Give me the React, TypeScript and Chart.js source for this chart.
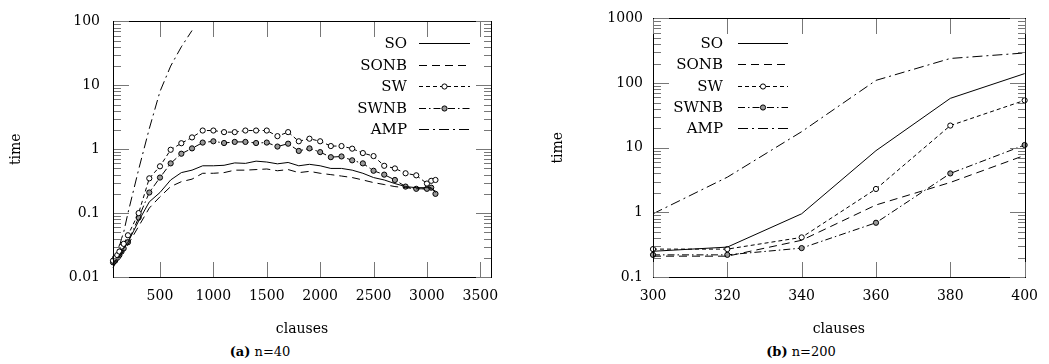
import React, { useEffect, useRef } from 'react';
import { Chart, registerables } from 'chart.js';

Chart.register(...registerables);

const FONT = "'DejaVu Serif', 'Liberation Serif', serif";

// ---------- Panel (a): n=40 ----------
const clausesA = [60, 80, 100, 120, 140, 160, 200, 300, 400, 500, 600, 700, 800, 900, 1000, 1100, 1200, 1300, 1400, 1500, 1600, 1700, 1800, 1900, 2000, 2100, 2200, 2300, 2400, 2500, 2600, 2700, 2800, 2900, 3000, 3040, 3080];
const soA = [0.016, 0.018, 0.02, 0.022, 0.025, 0.028, 0.035, 0.075, 0.15, 0.21, 0.33, 0.43, 0.47, 0.55, 0.55, 0.56, 0.61, 0.6, 0.65, 0.63, 0.59, 0.62, 0.55, 0.58, 0.55, 0.5, 0.5, 0.47, 0.42, 0.36, 0.33, 0.29, 0.26, 0.25, 0.25, 0.25, 0.21];
const sonbA = [0.014, 0.016, 0.018, 0.02, 0.023, 0.026, 0.032, 0.062, 0.12, 0.18, 0.26, 0.31, 0.34, 0.42, 0.42, 0.43, 0.47, 0.47, 0.48, 0.49, 0.46, 0.48, 0.43, 0.45, 0.42, 0.4, 0.38, 0.36, 0.33, 0.3, 0.28, 0.26, 0.25, 0.24, 0.24, 0.24, 0.22];
const swA = [0.018, 0.02, 0.022, 0.025, 0.03, 0.033, 0.045, 0.1, 0.35, 0.54, 0.98, 1.24, 1.53, 1.96, 1.96, 1.85, 1.85, 1.96, 1.96, 1.96, 1.6, 1.85, 1.33, 1.46, 1.33, 1.12, 1.12, 1.02, 0.87, 0.78, 0.55, 0.5, 0.42, 0.39, 0.29, 0.32, 0.33];
const swnbA = [0.017, 0.018, 0.02, 0.022, 0.025, 0.028, 0.035, 0.085, 0.21, 0.36, 0.6, 0.85, 1.03, 1.27, 1.33, 1.25, 1.3, 1.3, 1.25, 1.27, 1.1, 1.22, 0.94, 1.03, 0.9, 0.75, 0.77, 0.67, 0.6, 0.46, 0.4, 0.33, 0.26, 0.24, 0.24, 0.25, 0.2];
const ampA = [0.016, 0.02, 0.025, 0.03, 0.04, 0.05, 0.1, 0.48, 2.1, 8, 20, 40, 72, null, null, null, null, null, null, null, null, null, null, null, null, null, null, null, null, null, null, null, null, null, null, null, null];
const xTicksA = [500, 1000, 1500, 2000, 2500, 3000, 3500];
const yTicksA = [0.01, 0.1, 1, 10, 100];

// ---------- Panel (b): n=200 ----------
const clausesB = [300, 320, 340, 360, 380, 400];
const soB = [0.25, 0.29, 0.95, 9.0, 58, 140];
const sonbB = [0.21, 0.21, 0.37, 1.3, 2.9, 7.6];
const swB = [0.27, 0.27, 0.41, 2.3, 22, 54];
const swnbB = [0.22, 0.22, 0.28, 0.69, 4.0, 11];
const ampB = [0.95, 3.5, 17.7, 110, 240, 292];
const xTicksB = [300, 320, 340, 360, 380, 400];
const yTicksB = [0.1, 1, 10, 100, 1000];

const seriesLabels = ['SO', 'SONB', 'SW', 'SWNB', 'AMP'];

const styles = [
  { dash: [] as number[], marker: false, fill: '#fff' },
  { dash: [8, 5], marker: false, fill: '#fff' },
  { dash: [4, 3], marker: true, fill: '#fff' },
  { dash: [7, 3, 1.5, 3], marker: true, fill: '#999' },
  { dash: [10, 4, 2, 4], marker: false, fill: '#fff' },
];

function makeDatasets(xs: number[], values: (number | null)[][]) {
  return values.map((vals, si) => {
    const pts: { x: number; y: number }[] = [];
    xs.forEach((x, i) => {
      const v = vals[i];
      if (v != null) pts.push({ x, y: v });
    });
    return {
      label: seriesLabels[si],
      data: pts,
      borderColor: '#000',
      borderWidth: 1,
      borderDash: styles[si].dash,
      pointRadius: styles[si].marker ? 2.6 : 0,
      pointBackgroundColor: styles[si].fill,
      pointBorderColor: '#000',
      pointBorderWidth: 1,
      fill: false,
      tension: 0,
      clip: false as any,
    };
  });
}

type LegendPos = { textRight: number; x0: number; x1: number; y0: number; dy: number };

function makeFramePlugin(id: string, xTicks: number[], yTicks: number[], lg: LegendPos) {
  const drawFrame = (chart: any) => {
    const ctx = chart.ctx as CanvasRenderingContext2D;
    const xs = chart.scales.x;
    const ys = chart.scales.y;
    const L = Math.round(xs.left);
    const R = Math.round(xs.right);
    const T = Math.round(ys.top);
    const B = Math.round(ys.bottom);
    ctx.save();
    ctx.fillStyle = '#000';
    ctx.fillRect(L, T, R - L + 1, 1);
    ctx.fillRect(L, B, R - L + 1, 1);
    ctx.fillRect(L, T, 1, B - T + 1);
    ctx.fillRect(R, T, 1, B - T + 1);
    ctx.fillStyle = '#777';
    const major = 15;
    const minor = 7;
    xTicks.forEach((v) => {
      const px = Math.round(xs.getPixelForValue(v));
      ctx.fillRect(px, B - major, 1, major);
      ctx.fillRect(px, T + 1, 1, major);
    });
    yTicks.forEach((v) => {
      const py = Math.round(ys.getPixelForValue(v));
      ctx.fillRect(L + 1, py, major, 1);
      ctx.fillRect(R - major, py, major, 1);
    });
    for (let i = 0; i < yTicks.length - 1; i++) {
      for (let k = 2; k <= 9; k++) {
        const py = Math.round(ys.getPixelForValue(k * yTicks[i]));
        ctx.fillRect(L + 1, py, minor, 1);
        ctx.fillRect(R - minor, py, minor, 1);
      }
    }
    ctx.restore();
  };
  const drawLegend = (chart: any) => {
    const ctx = chart.ctx as CanvasRenderingContext2D;
    ctx.save();
    ctx.font = `15px ${FONT}`;
    ctx.textAlign = 'right';
    ctx.textBaseline = 'middle';
    ctx.lineWidth = 1;
    chart.data.datasets.forEach((ds: any, i: number) => {
      const y = Math.round(lg.y0 + i * lg.dy) + 0.5;
      ctx.fillStyle = '#000';
      ctx.fillText(ds.label, lg.textRight, y + 1);
      ctx.beginPath();
      ctx.setLineDash(ds.borderDash || []);
      ctx.strokeStyle = '#000';
      ctx.moveTo(lg.x0, y);
      ctx.lineTo(lg.x1, y);
      ctx.stroke();
      ctx.setLineDash([]);
      if (ds.pointRadius > 0) {
        ctx.beginPath();
        ctx.arc((lg.x0 + lg.x1) / 2, y, ds.pointRadius, 0, Math.PI * 2);
        ctx.fillStyle = ds.pointBackgroundColor;
        ctx.fill();
        ctx.stroke();
      }
    });
    ctx.restore();
  };
  return {
    id,
    beforeDatasetsDraw(chart: any) {
      drawFrame(chart);
    },
    afterDraw(chart: any) {
      drawFrame(chart);
      drawLegend(chart);
    },
  };
}

function makeConfig(p: {
  id: string;
  xs: number[];
  values: (number | null)[][];
  xMin: number;
  xMax: number;
  yMin: number;
  yMax: number;
  xTicks: number[];
  yTicks: number[];
  padLeft: number;
  padRight: number;
  yWidth: number;
  yPad: number;
  legend: LegendPos;
}): any {
  const tickFont = { family: FONT, size: 14 };
  return {
    type: 'line',
    data: { datasets: makeDatasets(p.xs, p.values) },
    options: {
      responsive: false,
      animation: false,
      events: [],
      layout: { padding: { left: p.padLeft, right: p.padRight, top: 16, bottom: 0 } },
      plugins: {
        legend: { display: false },
        tooltip: { enabled: false },
      },
      scales: {
        x: {
          type: 'linear',
          min: p.xMin,
          max: p.xMax,
          afterBuildTicks: (s: any) => {
            s.ticks = p.xTicks.map((v) => ({ value: v }));
          },
          afterFit: (s: any) => {
            s.height = 65;
          },
          ticks: {
            autoSkip: false,
            maxRotation: 0,
            padding: 11,
            color: '#000',
            font: tickFont,
            callback: (v: any) => String(v),
          },
          grid: { display: false, drawTicks: false },
          border: { display: true, color: '#000', width: 1 },
          title: { display: true, text: 'clauses', color: '#000', font: tickFont, padding: { top: 4, bottom: 4 } },
        },
        y: {
          type: 'logarithmic',
          min: p.yMin,
          max: p.yMax,
          afterBuildTicks: (s: any) => {
            s.ticks = p.yTicks.map((v) => ({ value: v }));
          },
          afterFit: (s: any) => {
            s.width = p.yWidth;
          },
          ticks: {
            autoSkip: false,
            padding: p.yPad,
            color: '#000',
            font: tickFont,
            callback: (v: any) => String(v),
          },
          grid: { display: false, drawTicks: false },
          border: { display: true, color: '#000', width: 1 },
          title: { display: true, text: 'time', color: '#000', font: tickFont, padding: { top: 4, bottom: 4 } },
        },
      },
    },
    plugins: [makeFramePlugin(p.id, p.xTicks, p.yTicks, p.legend)],
  };
}

export default function App() {
  const refA = useRef<HTMLCanvasElement | null>(null);
  const refB = useRef<HTMLCanvasElement | null>(null);

  useEffect(() => {
    const chartA = new Chart(
      refA.current as HTMLCanvasElement,
      makeConfig({
        id: 'frameA',
        xs: clausesA,
        values: [soA, sonbA, swA, swnbA, ampA],
        xMin: 60,
        xMax: 3600,
        yMin: 0.01,
        yMax: 100,
        xTicks: xTicksA,
        yTicks: yTicksA,
        padLeft: 4,
        padRight: 29,
        yWidth: 109,
        yPad: 13,
        legend: { textRight: 407, x0: 419, x1: 470, y0: 43, dy: 21.5 },
      })
    );
    const chartB = new Chart(
      refB.current as HTMLCanvasElement,
      makeConfig({
        id: 'frameB',
        xs: clausesB,
        values: [soB, sonbB, swB, swnbB, ampB],
        xMin: 300,
        xMax: 400,
        yMin: 0.1,
        yMax: 1000,
        xTicks: xTicksB,
        yTicks: yTicksB,
        padLeft: 26,
        padRight: 21,
        yWidth: 107,
        yPad: 10,
        legend: { textRight: 203, x0: 218, x1: 268, y0: 43, dy: 21.3 },
      })
    );
    return () => {
      chartA.destroy();
      chartB.destroy();
    };
  }, []);

  const capStyle: React.CSSProperties = {
    position: 'absolute',
    top: 343,
    fontFamily: FONT,
    fontSize: 13,
    lineHeight: '18px',
    color: '#000',
    whiteSpace: 'nowrap',
    transform: 'translateX(-50%)',
  };

  return (
    <div style={{ position: 'absolute', left: 0, top: 0, width: 1049, height: 364, background: '#fff', overflow: 'hidden' }}>
      <canvas ref={refA} width={520} height={342} style={{ position: 'absolute', left: 0, top: 0, width: 520, height: 342 }} />
      <canvas ref={refB} width={529} height={342} style={{ position: 'absolute', left: 520, top: 0, width: 529, height: 342 }} />
      <div style={{ ...capStyle, left: 260 }}>
        <b>(a)</b> n=40
      </div>
      <div style={{ ...capStyle, left: 801 }}>
        <b>(b)</b> n=200
      </div>
    </div>
  );
}
